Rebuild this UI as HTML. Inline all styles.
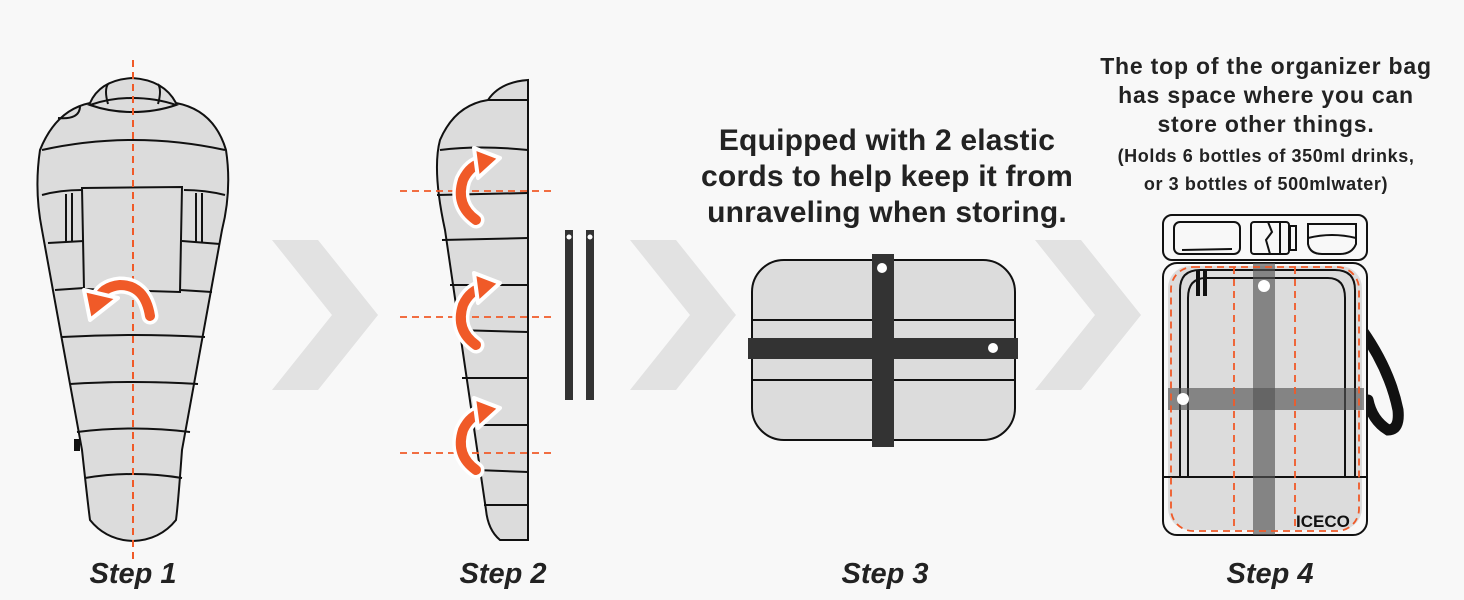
<!DOCTYPE html>
<html><head><style>
body{margin:0;background:#f8f8f8;}
svg{display:block}
text{font-family:"Liberation Sans",sans-serif;fill:#222}
</style></head><body>
<svg width="1464" height="600" viewBox="0 0 1464 600" xmlns="http://www.w3.org/2000/svg">
<rect width="1464" height="600" fill="#f8f8f8"/>
<!-- chevrons -->
<g fill="#e2e2e2">
<polygon points="272,240 318,240 378,315 318,390 272,390 332,315"/>
<polygon points="630,240 676,240 736,315 676,390 630,390 690,315"/>
<polygon points="1035,240 1081,240 1141,315 1081,390 1035,390 1095,315"/>
</g>
<!-- Step1 bag -->
<g stroke="#111" stroke-width="2" fill="#dcdcdc">
<path d="M90,103 Q100,80 132,78 Q164,80 176,103 Q214,110 226,150 Q232,190 222,230 L182,450 Q178,505 176,520 Q160,540 133,541 Q106,540 90,520 Q88,505 82,450 L42,230 Q34,190 40,150 Q56,110 90,103 Z"/>
<path d="M90,105 Q110,112 132,112 Q156,112 176,105 Q156,98 132,98 Q110,98 90,105Z"/>
<path d="M108,104 Q104,90 108,84 M158,104 Q162,90 158,84" fill="none"/>
<path d="M58,118 Q80,120 80,106" fill="none"/>
<path d="M42,150 Q133,130 225,150 M42,195 Q60,190 82,190 M184,190 Q205,190 225,195 M48,243 L84,241 M182,241 L220,244 M55,290 L84,288 M180,290 L212,292 M62,337 Q133,333 205,337 M70,384 Q133,380 198,384 M77,432 Q133,425 190,432 M85,478 Q133,470 182,478" fill="none"/>
<path d="M82,188 L182,187 L180,292 L84,289 Z"/>
<path d="M66,194 L66,242 M72,193 L72,242 M196,193 L196,242 M202,193 L202,242" fill="none"/>
<rect x="75" y="440" width="4" height="10" fill="#111"/>
</g>
<line x1="133" y1="60" x2="133" y2="562" stroke="#f05a28" stroke-width="2" stroke-dasharray="7,5"/>
<path d="M150,316 Q145,285 120,285 Q102,287 98,300" fill="none" stroke="#fff" stroke-width="17" stroke-linecap="round"/>
<path d="M150,316 Q145,285 120,285 Q102,287 98,300" fill="none" stroke="#f05a28" stroke-width="10" stroke-linecap="round"/>
<polygon points="84,290 118,298 90,320" fill="#f05a28" stroke="#fff" stroke-width="4" stroke-linejoin="round"/>
<!-- Step2 half bag -->
<g stroke="#111" stroke-width="2" fill="#dcdcdc">
<path d="M528,80 L528,540 L500,540 Q488,530 486,510 L445,230 Q432,170 440,140 Q455,105 488,100 Q500,82 528,80 Z"/>
<path d="M440,150 Q480,145 528,150 M437,195 L528,193 M442,240 L528,238 M450,285 L528,285 M456,330 L528,332 M462,378 L528,378 M468,425 L528,425 M476,470 L528,472 M484,505 L528,505 M488,100 L528,100" fill="none"/>
</g>
<g stroke="#f05a28" stroke-width="1.8" stroke-dasharray="7,5">
<line x1="400" y1="191" x2="552" y2="191"/><line x1="400" y1="317" x2="552" y2="317"/><line x1="400" y1="453" x2="552" y2="453"/>
</g>
<g fill="none" stroke-linecap="round">
<path d="M476,220 Q455,205 463,180 Q470,165 484,162" stroke="#fff" stroke-width="17"/>
<path d="M476,220 Q455,205 463,180 Q470,165 484,162" stroke="#f05a28" stroke-width="10"/>
<path d="M476,345 Q455,330 463,305 Q470,290 484,287" stroke="#fff" stroke-width="17"/>
<path d="M476,345 Q455,330 463,305 Q470,290 484,287" stroke="#f05a28" stroke-width="10"/>
<path d="M476,470 Q455,455 463,430 Q470,415 484,412" stroke="#fff" stroke-width="17"/>
<path d="M476,470 Q455,455 463,430 Q470,415 484,412" stroke="#f05a28" stroke-width="10"/>
</g>
<g fill="#f05a28" stroke="#fff" stroke-width="4" stroke-linejoin="round">
<polygon points="474,148 500,158 478,178"/>
<polygon points="474,273 500,283 478,303"/>
<polygon points="474,398 500,408 478,428"/>
</g>
<rect x="565" y="230" width="8" height="170" fill="#333"/>
<rect x="586" y="230" width="8" height="170" fill="#333"/>
<circle cx="569" cy="237" r="2.5" fill="#fff"/><circle cx="590" cy="237" r="2.5" fill="#fff"/>
<!-- Step3 -->
<g font-size="30" font-weight="bold" text-anchor="middle" letter-spacing="0.2">
<text x="887" y="150">Equipped with 2 elastic</text>
<text x="887" y="186">cords to help keep it from</text>
<text x="887" y="222">unraveling when storing.</text>
</g>
<rect x="752" y="260" width="263" height="180" rx="32" fill="#dcdcdc" stroke="#111" stroke-width="2"/>
<line x1="752" y1="320" x2="1015" y2="320" stroke="#111" stroke-width="2"/>
<line x1="752" y1="380" x2="1015" y2="380" stroke="#111" stroke-width="2"/>
<rect x="748" y="338" width="270" height="21" fill="#333"/>
<rect x="872" y="254" width="22" height="193" fill="#333"/>
<circle cx="882" cy="268" r="5" fill="#fff"/><circle cx="993" cy="348" r="5" fill="#fff"/>
<!-- Step4 -->
<g font-size="23" font-weight="bold" text-anchor="middle" letter-spacing="0.8">
<text x="1266" y="74">The top of the organizer bag</text>
<text x="1266" y="103">has space where you can</text>
<text x="1266" y="132">store other things.</text>
</g>
<g font-size="18" font-weight="bold" text-anchor="middle" letter-spacing="0.6">
<text x="1266" y="162">(Holds 6 bottles of 350ml drinks,</text>
<text x="1266" y="190">or 3 bottles of 500mlwater)</text>
</g>
<path d="M1362,330 Q1390,370 1398,410 Q1400,430 1388,430 Q1372,420 1368,400" fill="none" stroke="#111" stroke-width="11" stroke-linecap="round"/>
<rect x="1163" y="215" width="204" height="45" rx="9" fill="#f8f8f8" stroke="#111" stroke-width="2"/>
<g fill="none" stroke="#111" stroke-width="2">
<rect x="1174" y="222" width="66" height="32" rx="6"/>
<line x1="1182" y1="250" x2="1232" y2="249"/>
<rect x="1251" y="222" width="38" height="32" rx="3"/>
<path d="M1268,222 L1272,232 L1266,240 L1270,254 M1280,222 L1280,254"/>
<rect x="1290" y="226" width="6" height="24"/>
<path d="M1308,224 L1356,224 L1356,244 Q1352,254 1340,254 L1322,254 Q1310,254 1308,244 Z"/>
<path d="M1308,238 Q1332,232 1356,238"/>
</g>
<rect x="1163" y="263" width="204" height="272" rx="14" fill="#f8f8f8" stroke="#111" stroke-width="2"/>
<rect x="1168" y="266" width="194" height="264" rx="22" fill="#dcdcdc"/>
<path d="M1180,477 L1180,290 Q1180,270 1200,270 L1335,270 Q1355,270 1355,290 L1355,477" fill="none" stroke="#111" stroke-width="2"/>
<path d="M1188,477 L1188,298 Q1188,278 1206,278 L1328,278 Q1345,278 1345,298 L1345,477" fill="none" stroke="#111" stroke-width="2"/>
<line x1="1163" y1="477" x2="1367" y2="477" stroke="#111" stroke-width="2"/>
<rect x="1253" y="263" width="22" height="272" fill="#555" opacity="0.65"/>
<rect x="1168" y="388" width="196" height="22" fill="#555" opacity="0.65"/>
<circle cx="1264" cy="286" r="6" fill="#fff"/><circle cx="1183" cy="399" r="6" fill="#fff"/>
<rect x="1196" y="270" width="4" height="26" fill="#111"/><rect x="1203" y="270" width="4" height="26" fill="#111"/>
<rect x="1171" y="267" width="188" height="264" rx="22" fill="none" stroke="#f05a28" stroke-width="1.8" stroke-dasharray="7,5"/>
<line x1="1234" y1="267" x2="1234" y2="531" stroke="#f05a28" stroke-width="1.8" stroke-dasharray="7,5"/>
<line x1="1295" y1="267" x2="1295" y2="531" stroke="#f05a28" stroke-width="1.8" stroke-dasharray="7,5"/>
<text x="1296" y="527" font-size="17" font-weight="bold" style="fill:#111">ICECO</text>
<!-- step labels -->
<g font-size="29" font-style="italic" font-weight="bold" fill="#222" text-anchor="middle">
<text x="133" y="583">Step 1</text>
<text x="503" y="583">Step 2</text>
<text x="885" y="583">Step 3</text>
<text x="1270" y="583">Step 4</text>
</g>
</svg>
</body></html>
